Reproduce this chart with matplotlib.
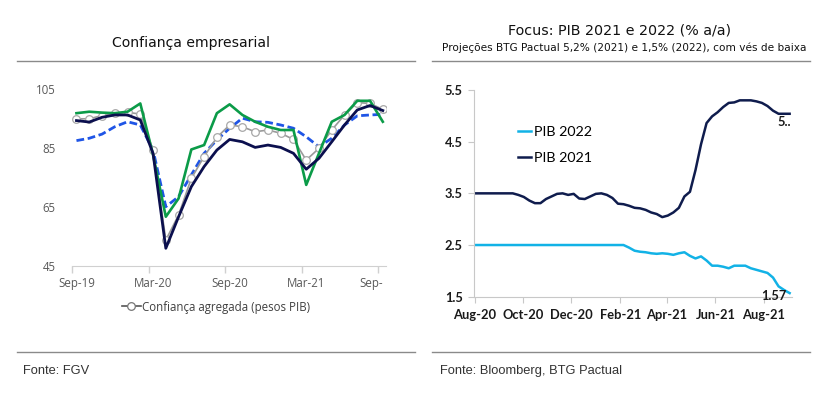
import pandas as pd
import matplotlib
matplotlib.use('Agg')
import matplotlib.pyplot as plt
import matplotlib.dates as mdates
from matplotlib.lines import Line2D

# ---------------- left chart data (monthly, Sep-19 .. Sep-21) ----------------
conf_months = list(range(25))
conf_tick_idx = [0, 6, 12, 18, 24]
conf_tick_labels = ['Sep-19', 'Mar-20', 'Sep-20', 'Mar-21', 'Sep-']

conf_green = [96.8, 97.3, 97.0, 96.8, 97.3, 100.1, 82.7, 61.7, 67.9, 84.5, 86.0, 96.8,
              99.8, 96.2, 93.9, 92.2, 91.1, 91.1, 72.5, 83.2, 93.9, 96.2, 101.0, 101.0, 93.9]
conf_navy = [94.3, 93.8, 95.4, 96.2, 96.2, 94.5, 83.2, 51.0, 61.7, 71.9, 78.7, 84.3,
             87.9, 87.1, 85.2, 86.0, 85.2, 83.2, 77.8, 81.5, 87.1, 92.8, 97.9, 99.4, 97.7]
conf_blue = [87.5, 88.3, 89.7, 92.2, 93.9, 92.8, 84.3, 65.1, 68.5, 75.9, 83.2, 87.7,
             91.7, 95.1, 93.9, 93.7, 92.8, 91.7, 88.8, 85.4, 88.3, 92.8, 95.9, 96.2, 96.4]
conf_agreg = [94.9, 94.9, 96.0, 96.8, 97.1, 96.5, 84.3, 53.8, 62.3, 74.7, 82.1, 88.6,
              92.8, 92.2, 90.5, 91.1, 90.0, 87.9, 80.9, 84.9, 91.1, 96.2, 100.4, 100.1, 98.1]

# ---------------- right chart data (weekly Focus survey) ----------------
focus_dates = pd.date_range('2020-07-31', '2021-09-03', freq='7D')
pib_2021 = [3.5, 3.5, 3.5, 3.5, 3.5, 3.5, 3.5, 3.5, 3.47, 3.43,
            3.36, 3.31, 3.31, 3.39, 3.44, 3.49, 3.5, 3.47, 3.49, 3.4,
            3.39, 3.44, 3.49, 3.5, 3.47, 3.41, 3.3, 3.29, 3.26, 3.22,
            3.21, 3.18, 3.13, 3.1, 3.04, 3.07, 3.13, 3.22, 3.44, 3.53,
            3.95, 4.45, 4.86, 4.99, 5.07, 5.17, 5.25, 5.26, 5.3, 5.3,
            5.3, 5.28, 5.25, 5.19, 5.1, 5.04, 5.04, 5.04]
pib_2022 = [2.5, 2.5, 2.5, 2.5, 2.5, 2.5, 2.5, 2.5, 2.5, 2.5,
            2.5, 2.5, 2.5, 2.5, 2.5, 2.5, 2.5, 2.5, 2.5, 2.5,
            2.5, 2.5, 2.5, 2.5, 2.5, 2.5, 2.5, 2.5, 2.45, 2.39,
            2.37, 2.36, 2.34, 2.33, 2.34, 2.33, 2.31, 2.34, 2.36, 2.29,
            2.24, 2.28, 2.2, 2.1, 2.1, 2.08, 2.05, 2.1, 2.1, 2.1,
            2.05, 2.02, 1.99, 1.96, 1.87, 1.7, 1.63, 1.57]
focus_ticks = pd.to_datetime(['2020-08-01', '2020-10-01', '2020-12-01', '2021-02-01',
                              '2021-04-01', '2021-06-01', '2021-08-01'])

W, H = 830, 399
fig = plt.figure(figsize=(W / 100, H / 100), dpi=100)
fig.patch.set_facecolor('white')


def fx(px):
    return px / W


def fy(py):
    return 1 - py / H


##############################################################################
# Frame: titles, rules, sources
##############################################################################
rule_col = '#8a8a8a'
for x0, x1 in [(17, 415), (432, 810)]:
    for yy in (61, 352):
        fig.add_artist(Line2D([fx(x0), fx(x1)], [fy(yy), fy(yy)], color=rule_col, lw=1.0))

fig.text(fx(191), fy(43), 'Confiança empresarial', ha='center', va='center',
         fontsize=10.1, family='DejaVu Sans', color='#111111')
fig.text(fx(620), fy(30), 'Focus: PIB 2021 e 2022 (% a/a)', ha='center', va='center',
         fontsize=10.3, family='DejaVu Sans', color='#111111')
fig.text(fx(624), fy(48), 'Projeções BTG Pactual 5,2% (2021) e 1,5% (2022), com vés de baixa',
         ha='center', va='center', fontsize=7.6, family='DejaVu Sans', color='#111111')
fig.text(fx(23), fy(371), 'Fonte: FGV', ha='left', va='center',
         fontsize=9.3, family='Liberation Sans', color='#333333')
fig.text(fx(440), fy(371), 'Fonte: Bloomberg, BTG Pactual', ha='left', va='center',
         fontsize=9.3, family='Liberation Sans', color='#333333')

##############################################################################
# 1) Confiança empresarial
##############################################################################
ax1 = fig.add_axes([fx(72), fy(266), fx(386 - 72), (266 - 89) / H])
ax1.plot(conf_months, conf_blue, color='#1f55e6', lw=2.0, dashes=(2.8, 1.3))
ax1.plot(conf_months, conf_agreg, color='#9a9a9a', lw=1.2, marker='o', ms=5.5,
         mfc='white', mec='#a8a8a8', mew=0.9)
ax1.plot(conf_months, conf_green, color='#0b9b48', lw=1.9)
ax1.plot(conf_months, conf_navy, color='#0b0f4e', lw=2.0)

ax1.set_xlim(-0.3, 24.25)
ax1.set_ylim(45, 105)
ax1.set_yticks([45, 65, 85, 105])
ax1.set_xticks([i - 0.35 for i in conf_tick_idx])
ax1.set_xticklabels([])
ax1.set_xticks(conf_tick_idx, minor=True)
ax1.set_xticklabels(conf_tick_labels, minor=True)
ax1.tick_params(axis='x', which='major', length=5, color='#d0d0d0', width=1)
ax1.tick_params(axis='x', which='minor', length=0, pad=8, labelsize=8.3,
                labelcolor='#595959')
ax1.tick_params(axis='y', length=0, pad=12, labelsize=8.3, labelcolor='#595959')
for lab in ax1.get_xticklabels(minor=True) + ax1.get_yticklabels():
    lab.set_family('Open Sans')
ax1.get_xticklabels(minor=True)[-1].set_horizontalalignment('right')
for s in ['top', 'right', 'left']:
    ax1.spines[s].set_visible(False)
ax1.spines['bottom'].set_color('#d0d0d0')

agg_handle = Line2D([], [], color='#555555', lw=1.2, marker='o', ms=5.5,
                    mfc='white', mec='#777777', mew=0.9)
fig.legend([agg_handle], ['Confiança agregada (pesos PIB)'], loc='center',
           bbox_to_anchor=(fx(216), fy(307)), frameon=False, handlelength=1.6,
           handletextpad=0.1, prop={'family': 'Open Sans', 'size': 8.3},
           labelcolor='#404040')

##############################################################################
# 2) Focus PIB 2021 e 2022
##############################################################################
ax2 = fig.add_axes([fx(474), fy(296.7), fx(792 - 474), (296.7 - 90) / H])
l22, = ax2.plot(focus_dates, pib_2022, color='#12b2e6', lw=1.8)
l21, = ax2.plot(focus_dates, pib_2021, color='#0f1c4d', lw=1.8)

ax2.set_xlim(pd.Timestamp('2020-07-31'), pd.Timestamp('2021-09-06'))
ax2.set_ylim(1.5, 5.5)
ax2.set_yticks([1.5, 2.5, 3.5, 4.5, 5.5])
ax2.yaxis.set_major_formatter(plt.FormatStrFormatter('%.1f'))
ax2.set_xticks(focus_ticks)
ax2.xaxis.set_major_formatter(mdates.DateFormatter('%b-%y'))
ax2.tick_params(axis='x', length=4, color='#c8c8c8', pad=5, labelsize=9.3,
                labelcolor='#1a1a1a')
ax2.tick_params(axis='y', length=4, color='#c8c8c8', pad=4, labelsize=9.3,
                labelcolor='#1a1a1a')
for lab in ax2.get_xticklabels() + ax2.get_yticklabels():
    lab.set_family('Lato')
    lab.set_fontweight('bold')
for s in ['top', 'right']:
    ax2.spines[s].set_visible(False)
ax2.spines['left'].set_color('#c8c8c8')
ax2.spines['bottom'].set_color('#c8c8c8')

ax2.annotate('5..', (focus_dates[-1], pib_2021[-1]), xytext=(-4, -6),
             textcoords='offset points', ha='center', va='center',
             fontsize=9.3, family='Lato', fontweight='bold', color='#1a1a1a')
ax2.annotate('%.2f' % pib_2022[-1], (focus_dates[-1], pib_2022[-1]), xytext=(-11, -2),
             textcoords='offset points', ha='center', va='center',
             fontsize=9.3, family='Lato', fontweight='bold', color='#1a1a1a')

ax2.legend([l22, l21], ['PIB 2022', 'PIB 2021'], loc='center left',
           bbox_to_anchor=(fx(505 - 474) / fx(792 - 474), 0.735), frameon=False,
           handlelength=0.9, handletextpad=0.2, labelspacing=1.0,
           prop={'family': 'Lato', 'size': 10.3})

plt.savefig('out.png', dpi=100, facecolor='white')
